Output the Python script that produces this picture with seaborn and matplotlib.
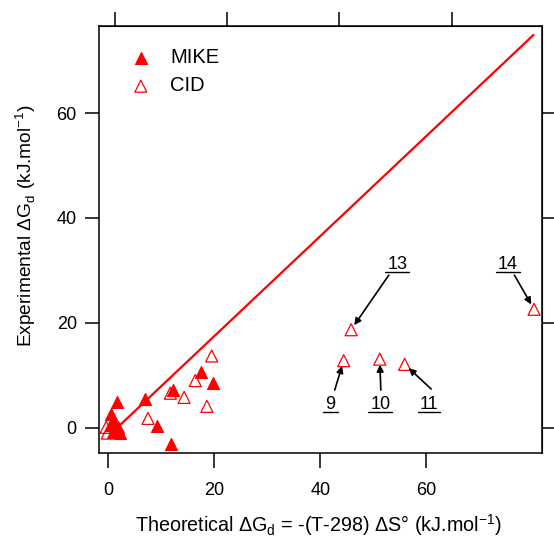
import numpy as np
import pandas as pd
import matplotlib
matplotlib.use("Agg")
import matplotlib.pyplot as plt
import seaborn as sns
from matplotlib.lines import Line2D

# MIKE (filled) and CID (open) points
mike_x = [1.6, 0.6, 0.9, 0.45, 1.8, 0.9, 2.2, 7.0, 9.1, 11.9, 12.2, 17.4, 19.8]
mike_y = [4.9, 2.7, 1.5, 0.5, 0.1, -0.8, -1.0, 5.4, 0.4, -3.1, 7.3, 10.7, 8.6]
cid_x = [-0.4, -0.2, 7.5, 11.7, 14.3, 16.4, 19.5, 18.6, 44.4, 51.2, 55.9, 45.8, 80.3]
cid_y = [0.1, -1.0, 1.8, 6.6, 5.8, 9.0, 13.7, 4.1, 12.8, 13.1, 12.1, 18.7, 22.6]

# red line
line_x = [2.15, 80.2]
line_y = [0.46, 74.9]

# labelled CID points: label, index in cid lists, text position, arrow start
labels = ["9", "10", "11", "13", "14"]
label_idx = [8, 9, 10, 11, 12]
label_pos = [(41.9, 3.6), (51.3, 3.6), (60.5, 3.6), (54.5, 30.2), (75.3, 30.2)]
arrow_start = [(42.7, 7.2), (51.4, 7.2), (60.9, 7.4), (52.9, 29.1), (76.6, 29.1)]

xticks = [0, 20, 40, 60]
yticks = [0, 20, 40, 60]
top_ticks = [1.27, 22.4, 43.6, 64.8]
right_ticks = [0, 20, 40, 60]

sns.set_style("ticks")
plt.rcParams['font.family'] = ['Liberation Sans', 'DejaVu Sans']
plt.rcParams.update({"text.color": "black", "axes.labelcolor": "black",
                     "xtick.color": "black", "ytick.color": "black",
                     "axes.edgecolor": "black"})

fig = plt.figure(figsize=(5.54, 5.43), dpi=100)
ax = fig.add_axes([99/554, 1-453/543, 443/554, 427/543])

red = "#ff0000"
sns.scatterplot(x=mike_x, y=mike_y, marker="^", s=75, color=red, edgecolor=red,
                linewidth=0.8, label="MIKE", ax=ax, zorder=3)
sns.scatterplot(x=cid_x, y=cid_y, marker="^", s=75, facecolor="none", edgecolor=red,
                linewidth=0.9, label="CID", ax=ax, zorder=3)
sns.lineplot(x=line_x, y=line_y, color=red, linewidth=1.6, ax=ax, zorder=2)

ax.set_xlim(-1.75, 81.8)
ax.set_ylim(-4.8, 76.6)
ax.set_xticks(xticks)
ax.set_yticks(yticks)
ax.tick_params(axis="x", direction="out", length=11, width=1.1, pad=10, labelsize=13)
ax.tick_params(axis="y", direction="out", length=10, width=1.1, pad=6, labelsize=13)
for s in ax.spines.values():
    s.set_linewidth(1.1)
    s.set_visible(True)

top = ax.secondary_xaxis("top")
top.set_xticks(top_ticks)
top.set_xticklabels([])
top.tick_params(direction="out", length=10, width=1.1)
right = ax.secondary_yaxis("right")
right.set_yticks(right_ticks)
right.set_yticklabels([])
right.tick_params(direction="out", length=10, width=1.1)

ax.set_xlabel("Theoretical ΔG$_\\mathregular{d}$ = -(T-298) ΔS° (kJ.mol$^\\mathregular{-1}$)",
              fontsize=14.2)
ax.set_ylabel("Experimental ΔG$_\\mathregular{d}$ (kJ.mol$^\\mathregular{-1}$)",
              fontsize=13.8)
ax.xaxis.set_label_coords(0.495, -0.138)
ax.yaxis.set_label_coords(-0.138, 0.532)

leg = ax.legend(loc="upper left", bbox_to_anchor=(0.008, 0.99), frameon=False,
                fontsize=14.5, handletextpad=0.45, labelspacing=0.45, markerscale=1.0)

texts = []
for lab, i, (tx, ty), (ax0, ay0) in zip(labels, label_idx, label_pos, arrow_start):
    ax.annotate("", xy=(cid_x[i], cid_y[i]), xytext=(ax0, ay0),
                arrowprops=dict(arrowstyle="-|>", color="black", lw=1.2,
                                mutation_scale=10, shrinkA=0, shrinkB=4))
    t = ax.text(tx, ty, lab, ha="center", va="baseline", fontsize=13)
    texts.append(t)

# underline the labels
fig.canvas.draw()
inv = fig.transFigure.inverted()
for t in texts:
    bb = t.get_window_extent()
    x0, y0 = inv.transform((bb.x0 - 2, bb.y0 + 1))
    x1, _ = inv.transform((bb.x1 + 2, bb.y0 + 1))
    fig.add_artist(Line2D([x0, x1], [y0, y0], color="black", lw=1.0, transform=fig.transFigure))

fig.savefig("out.png", dpi=100)
